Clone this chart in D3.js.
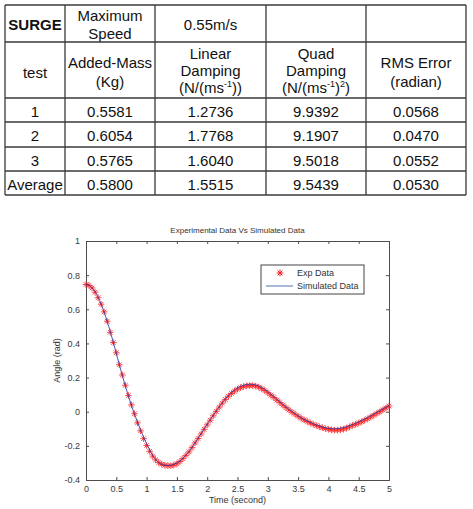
<!DOCTYPE html>
<html><head><meta charset="utf-8">
<script src="https://cdn.jsdelivr.net/npm/d3@7"></script>
<style>body{margin:0;background:#fff;}svg{display:block;}</style>
</head><body>
<svg id="c" width="473" height="509"></svg>
<script>
// ---------- table data ----------
const tests = ["1", "2", "3", "Average"];
const addedMass = [0.5581, 0.6054, 0.5765, 0.5800];
const linearDamping = [1.2736, 1.7768, 1.6040, 1.5515];
const quadDamping = [9.9392, 9.1907, 9.5018, 9.5439];
const rmsError = [0.0568, 0.0470, 0.0552, 0.0530];
const topRow = ["SURGE", ["Maximum", "Speed"], "0.55m/s", "", ""];
const headerRow = [
  [[{t:"test"}]],
  [[{t:"Added-Mass"}], [{t:"(Kg)"}]],
  [[{t:"Linear"}], [{t:"Damping"}], [{t:"(N/(ms"}, {t:"-1", sup:true}, {t:"))"}]],
  [[{t:"Quad"}], [{t:"Damping"}], [{t:"(N/(ms"}, {t:"-1", sup:true}, {t:")"}, {t:"2", sup:true}, {t:")"}]],
  [[{t:"RMS Error"}], [{t:"(radian)"}]]
];

// ---------- chart data ----------
const chartTitle = "Experimental Data Vs Simulated Data";
const xLabel = "Time (second)";
const yLabel = "Angle (rad)";
const xTicks = [0, 0.5, 1, 1.5, 2, 2.5, 3, 3.5, 4, 4.5, 5];
const yTicks = [-0.4, -0.2, 0, 0.2, 0.4, 0.6, 0.8, 1];
const legendLabels = ["Exp Data", "Simulated Data"];
const time = [0,0.05,0.1,0.15,0.2,0.25,0.3,0.35,0.4,0.45,0.5,0.55,0.6,0.65,0.7,0.75,0.8,0.85,0.9,0.95,
  1,1.05,1.1,1.15,1.2,1.25,1.3,1.35,1.4,1.45,1.5,1.55,1.6,1.65,1.7,1.75,1.8,1.85,1.9,1.95,
  2,2.05,2.1,2.15,2.2,2.25,2.3,2.35,2.4,2.45,2.5,2.55,2.6,2.65,2.7,2.75,2.8,2.85,2.9,2.95,
  3,3.05,3.1,3.15,3.2,3.25,3.3,3.35,3.4,3.45,3.5,3.55,3.6,3.65,3.7,3.75,3.8,3.85,3.9,3.95,
  4,4.05,4.1,4.15,4.2,4.25,4.3,4.35,4.4,4.45,4.5,4.55,4.6,4.65,4.7,4.75,4.8,4.85,4.9,4.95,5];
const expData = [0.745,0.740,0.725,0.700,0.668,0.630,0.585,0.530,0.465,0.405,
  0.345,0.275,0.215,0.155,0.095,0.040,-0.012,-0.065,-0.112,-0.158,
  -0.198,-0.232,-0.260,-0.282,-0.298,-0.308,-0.314,-0.316,-0.316,-0.313,
  -0.305,-0.292,-0.275,-0.256,-0.235,-0.210,-0.183,-0.157,-0.130,-0.103,
  -0.077,-0.050,-0.024,0.002,0.027,0.050,0.072,0.091,0.107,0.121,
  0.132,0.141,0.147,0.151,0.153,0.153,0.150,0.144,0.135,0.124,
  0.111,0.097,0.083,0.068,0.053,0.038,0.024,0.010,-0.003,-0.015,
  -0.027,-0.038,-0.048,-0.057,-0.066,-0.074,-0.081,-0.088,-0.094,-0.099,
  -0.103,-0.106,-0.108,-0.108,-0.106,-0.102,-0.096,-0.089,-0.080,-0.074,
  -0.067,-0.059,-0.050,-0.041,-0.031,-0.021,-0.010,0.000,0.011,0.022,0.033];
const simData = [0.745,0.741,0.727,0.703,0.670,0.630,0.583,0.529,0.470,0.407,
  0.342,0.276,0.212,0.150,0.092,0.037,-0.014,-0.062,-0.107,-0.149,
  -0.188,-0.224,-0.255,-0.280,-0.298,-0.309,-0.314,-0.315,-0.313,-0.308,
  -0.300,-0.288,-0.272,-0.253,-0.232,-0.208,-0.182,-0.155,-0.128,-0.100,
  -0.073,-0.046,-0.020,0.005,0.030,0.054,0.076,0.096,0.113,0.128,
  0.140,0.149,0.155,0.159,0.161,0.160,0.157,0.151,0.142,0.131,
  0.118,0.104,0.089,0.074,0.058,0.043,0.028,0.014,0.001,-0.012,
  -0.024,-0.035,-0.045,-0.054,-0.063,-0.071,-0.078,-0.084,-0.089,-0.094,
  -0.097,-0.099,-0.100,-0.099,-0.097,-0.093,-0.088,-0.081,-0.074,-0.067,
  -0.059,-0.051,-0.042,-0.033,-0.023,-0.013,-0.003,0.007,0.017,0.027,0.037];

const svg = d3.select("#c");
const FONT = "'Liberation Sans', Arial, sans-serif";

// ---------- table ----------
const colX = [5, 65, 155, 266, 366, 466];
const rowY = [5, 42, 98, 122, 147, 171, 195];
const tbl = svg.append("g").attr("font-family", FONT).attr("fill", "#111");
const cx = i => (colX[i] + colX[i + 1]) / 2;

function addLine(g, x, y, segs, size) {
  const t = g.append("text").attr("x", x).attr("y", y).attr("text-anchor", "middle").attr("font-size", size);
  let prevSup = false;
  segs.forEach(s => {
    if (s.sup) { t.append("tspan").attr("dy", prevSup ? 0 : -6).attr("font-size", 9).text(s.t); prevSup = true; }
    else { t.append("tspan").attr("dy", prevSup ? 6 : 0).text(s.t); prevSup = false; }
  });
  return t;
}

// top row
tbl.append("text").attr("x", cx(0)).attr("y", 30).attr("text-anchor", "middle")
  .attr("font-size", 15).attr("font-weight", "bold").text(topRow[0]);
topRow[1].forEach((s, k) => tbl.append("text").attr("x", cx(1)).attr("y", 21 + k * 17.5)
  .attr("text-anchor", "middle").attr("font-size", 15).text(s));
tbl.append("text").attr("x", cx(2)).attr("y", 30).attr("text-anchor", "middle").attr("font-size", 15).text(topRow[2]);

// header row
const headerBaselines = {1: [78], 2: [68, 87], 3: [59, 76, 93]};
headerRow.forEach((lines, i) => {
  const bl = headerBaselines[lines.length];
  lines.forEach((segs, k) => addLine(tbl, cx(i), bl[k], segs, 15));
});

// data rows
const cols = [tests, addedMass.map(v => v.toFixed(4)), linearDamping.map(v => v.toFixed(4)),
  quadDamping.map(v => v.toFixed(4)), rmsError.map(v => v.toFixed(4))];
tests.forEach((_, r) => {
  cols.forEach((col, i) => {
    tbl.append("text").attr("x", cx(i)).attr("y", (rowY[r + 2] + rowY[r + 3]) / 2 + 6.5)
      .attr("text-anchor", "middle").attr("font-size", 15).text(col[r]);
  });
});

// grid lines
const gl = svg.append("g").attr("stroke", "#3a3a3a").attr("stroke-width", 1.3);
colX.forEach(x => gl.append("line").attr("x1", x).attr("x2", x).attr("y1", rowY[0]).attr("y2", rowY[rowY.length - 1]));
rowY.forEach(y => gl.append("line").attr("x1", colX[0]).attr("x2", colX[colX.length - 1]).attr("y1", y).attr("y2", y));

// ---------- chart ----------
const L = 86, R = 389, T = 241, B = 480;
const x = d3.scaleLinear().domain([0, 5]).range([L, R]);
const y = d3.scaleLinear().domain([-0.4, 1]).range([B, T]);
const ch = svg.append("g").attr("font-family", FONT);
const axisColor = "#4d4d4d";
const fmt = d => String(d);

// axes (inward ticks, box)
const axB = ch.append("g").attr("transform", `translate(0,${B})`)
  .call(d3.axisBottom(x).tickValues(xTicks).tickSize(-3).tickPadding(6).tickFormat(fmt));
const axT = ch.append("g").attr("transform", `translate(0,${T})`)
  .call(d3.axisTop(x).tickValues(xTicks).tickSize(-3).tickFormat(""));
const axL = ch.append("g").attr("transform", `translate(${L},0)`)
  .call(d3.axisLeft(y).tickValues(yTicks).tickSize(-3).tickPadding(6).tickFormat(fmt));
const axR = ch.append("g").attr("transform", `translate(${R},0)`)
  .call(d3.axisRight(y).tickValues(yTicks).tickSize(-3).tickFormat(""));
[axB, axT, axL, axR].forEach(a => {
  a.select(".domain").attr("stroke", axisColor);
  a.selectAll(".tick line").attr("stroke", axisColor);
  a.selectAll(".tick text").attr("fill", "#3a3a3a").attr("font-size", 9).attr("font-family", FONT);
});

// exp markers
const star = "M-3.3,0H3.3M0,-3.3V3.3M-2.3,-2.3L2.3,2.3M-2.3,2.3L2.3,-2.3";
ch.append("g").selectAll("path").data(time).join("path")
  .attr("transform", (d, i) => `translate(${x(d)},${y(expData[i])})`)
  .attr("d", star).attr("stroke", "#ff1a1a").attr("stroke-width", 1).attr("stroke-opacity", 0.8).attr("fill", "none");

// simulated line
const line = d3.line().x((d, i) => x(time[i])).y(d => y(d)).curve(d3.curveMonotoneX);
ch.append("path").datum(simData).attr("d", line).attr("fill", "none")
  .attr("stroke", "#2a3aa8").attr("stroke-width", 1).attr("stroke-opacity", 0.85);

// title & labels
ch.append("text").attr("x", (L + R) / 2).attr("y", 233).attr("text-anchor", "middle")
  .attr("font-size", 8).attr("fill", "#333").text(chartTitle);
ch.append("text").attr("x", (L + R) / 2).attr("y", 503).attr("text-anchor", "middle")
  .attr("font-size", 9).attr("fill", "#333").text(xLabel);
ch.append("text").attr("transform", `translate(60,${(T + B) / 2}) rotate(-90)`).attr("text-anchor", "middle")
  .attr("font-size", 9).attr("fill", "#333").text(yLabel);

// legend
const lg = ch.append("g");
lg.append("rect").attr("x", 261).attr("y", 265).attr("width", 103).attr("height", 29)
  .attr("fill", "#fff").attr("stroke", "#444").attr("stroke-width", 1);
lg.append("path").attr("transform", "translate(280,273)").attr("d", star)
  .attr("stroke", "#ff1a1a").attr("stroke-width", 1).attr("fill", "none");
lg.append("line").attr("x1", 266).attr("x2", 293).attr("y1", 286).attr("y2", 286)
  .attr("stroke", "#5a6fb0").attr("stroke-width", 1);
legendLabels.forEach((s, k) => lg.append("text").attr("x", 297).attr("y", 276 + k * 13)
  .attr("font-size", 9).attr("fill", "#333").text(s));
</script>
</body></html>
